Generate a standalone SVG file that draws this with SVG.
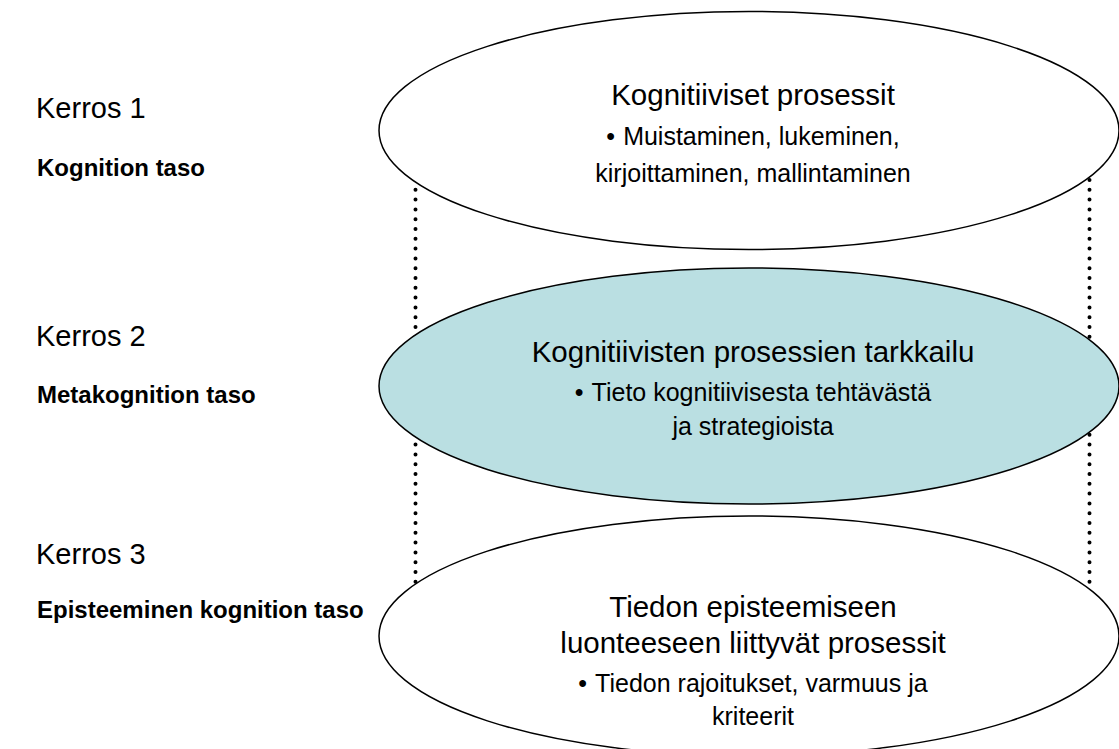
<svg xmlns="http://www.w3.org/2000/svg" width="1119" height="749" viewBox="0 0 1119 749">
<style>
.bg{fill:#ffffff}
.ell{stroke:#000000;stroke-width:1.5}
.white{fill:#ffffff}
.teal{fill:#badfe2}
.dot{fill:none;stroke:#000000;stroke-width:4;stroke-linecap:round;stroke-dasharray:0 9.8}
.t{font-family:"Liberation Sans",Arial,sans-serif;fill:#000000}
.title{font-size:29.5px;text-anchor:middle}
.body{font-size:25px;text-anchor:middle}
.kerros{font-size:29px}
.taso{font-size:24px;font-weight:bold}
</style>
<rect class="bg" x="0" y="0" width="1119" height="749"/>
<g id="connectors">
<line class="dot" x1="415.5" y1="180" x2="415.5" y2="582"/>
<line class="dot" x1="1089.5" y1="180" x2="1089.5" y2="582"/>
</g>
<g id="labels">
<text class="t kerros" x="36" y="118">Kerros 1</text>
<text class="t taso" x="37" y="176">Kognition taso</text>
<text class="t kerros" x="36" y="346">Kerros 2</text>
<text class="t taso" x="37" y="403">Metakognition taso</text>
<text class="t kerros" x="36" y="564">Kerros 3</text>
<text class="t taso" x="37" y="618">Episteeminen kognition taso</text>
</g>
<g id="node1">
<ellipse class="ell white" cx="749" cy="130.5" rx="370" ry="119"/>
<text class="t title" x="753" y="105">Kognitiiviset prosessit</text>
<text class="t body" x="753" y="145"><tspan>•</tspan><tspan dx="8">Muistaminen, lukeminen,</tspan></text>
<text class="t body" x="753" y="182">kirjoittaminen, mallintaminen</text>
</g>
<g id="node2">
<ellipse class="ell teal" cx="749" cy="386" rx="370" ry="118"/>
<text class="t title" x="753" y="362">Kognitiivisten prosessien tarkkailu</text>
<text class="t body" x="753" y="401"><tspan>•</tspan><tspan dx="8">Tieto kognitiivisesta tehtävästä</tspan></text>
<text class="t body" x="753" y="435">ja strategioista</text>
</g>
<g id="node3">
<ellipse class="ell white" cx="749" cy="636" rx="370" ry="120"/>
<text class="t title" x="753" y="617">Tiedon episteemiseen</text>
<text class="t title" x="753" y="653">luonteeseen liittyvät prosessit</text>
<text class="t body" x="753" y="692"><tspan>•</tspan><tspan dx="8">Tiedon rajoitukset, varmuus ja</tspan></text>
<text class="t body" x="753" y="725">kriteerit</text>
</g>
</svg>
